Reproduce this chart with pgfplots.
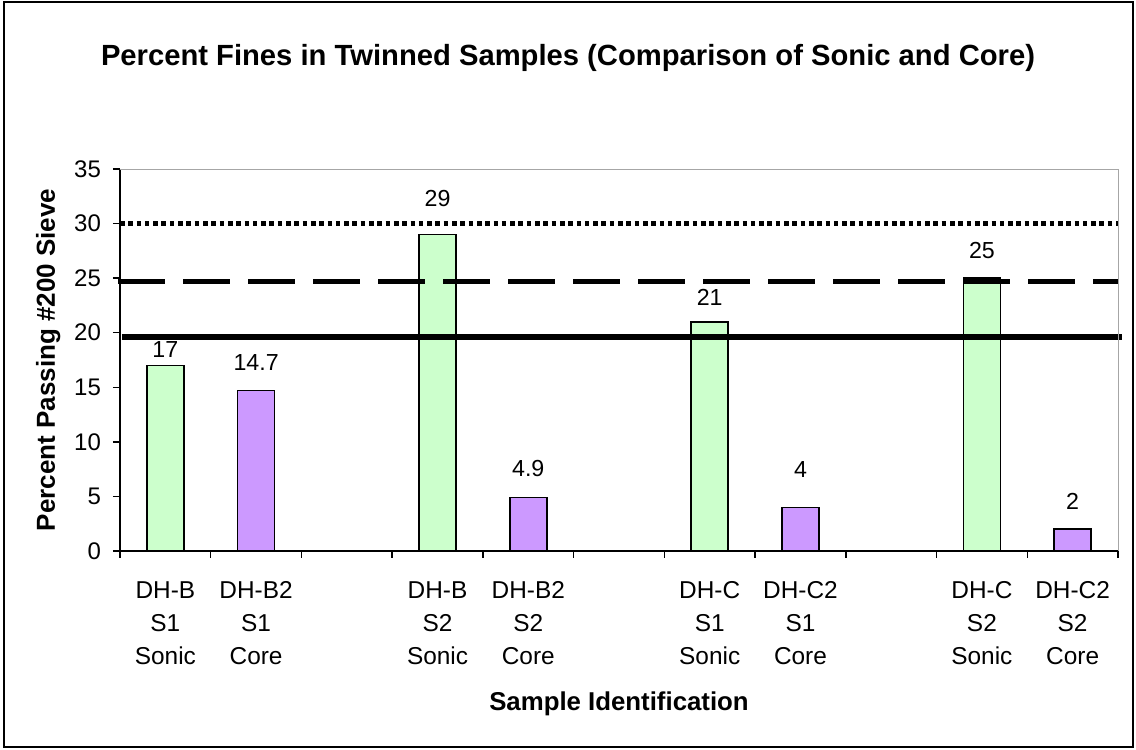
\documentclass[border=0pt]{standalone}
\usepackage{fontspec}
\setmainfont{Liberation Sans}
\usepackage{pgfplots}
\pgfplotsset{compat=1.18}
\usepackage{pgfplotstable}

\definecolor{sonicgreen}{HTML}{CCFFCC}
\definecolor{corepurple}{HTML}{CC99FF}

% x position, percent passing, printed label, label lift (pt)
\pgfplotstableread{
x y lab off
0 17 17 8
3 29 29 18
6 21 21 12
9 25 25 14
}\sonic
\pgfplotstableread{
x y lab off
1 14.7 14.7 14
4 4.9 4.9 14.5
7 4 4 19
10 2 2 14
}\core

% three-line category label with uniform line boxes
\newcommand\cat[3]{#1\strut\\#2\strut\\#3\strut}

\begin{document}
\begin{tikzpicture}
\path[use as bounding box] (0pt,0pt) rectangle (568pt,375pt);
\draw[black, line width=0.75pt] (2pt,1.5pt) rectangle (566.5pt,374pt);
\node[font=\fontsize{14.6}{17}\selectfont\bfseries] at (284pt,346pt)
  {Percent Fines in Twinned Samples (Comparison of Sonic and Core)};
\begin{axis}[
  at={(60pt,99.5pt)}, anchor=south west,
  scale only axis, width=499pt, height=191pt,
  xmin=-0.5, xmax=10.5, ymin=0, ymax=35,
  clip=false,
  axis x line*=bottom, axis y line*=left,
  axis line style={black, line width=0.75pt, -},
  tick align=outside, major tick length=3.5pt,
  tick style={black, line width=0.75pt},
  ytick={0,5,...,35},
  yticklabel style={font=\fontsize{12}{14}\selectfont, xshift=-2.5pt,
    /pgf/number format/assume math mode=true},
  xtick={-0.5,0.5,...,10.5},
  xticklabels={},
  extra x ticks={0,1,3,4,6,7,9,10},
  extra x tick labels={{\cat{DH-B}{S1}{Sonic}},{\cat{DH-B2}{S1}{Core}},
    {\cat{DH-B}{S2}{Sonic}},{\cat{DH-B2}{S2}{Core}},
    {\cat{DH-C}{S1}{Sonic}},{\cat{DH-C2}{S1}{Core}},
    {\cat{DH-C}{S2}{Sonic}},{\cat{DH-C2}{S2}{Core}}},
  extra x tick style={tick style={draw=none},
    tick label style={align=center, anchor=north, yshift=-5pt,
      font=\fontsize{12.2}{16.5}\selectfont}},
  xlabel={Sample Identification},
  xlabel style={at={(axis description cs:0.5,-0.4)}, anchor=center,
    font=\fontsize{12.9}{15}\selectfont\bfseries},
  ylabel={Percent Passing \#200 Sieve},
  ylabel style={at={(axis description cs:-0.072,0.5)}, anchor=center,
    font=\fontsize{13}{15}\selectfont\bfseries},
]
\addplot[ybar, bar width=0.408, bar shift=0pt, fill=sonicgreen, draw=black,
  line width=0.75pt,
  nodes near coords, point meta=explicit symbolic,
  visualization depends on={\thisrow{off} \as \laboff},
  every node near coord/.append style={anchor=center, yshift=\laboff*1pt,
    font=\fontsize{11.6}{13}\selectfont, black}]
  table[x=x, y=y, meta=lab] {\sonic};
\addplot[ybar, bar width=0.408, bar shift=0pt, fill=corepurple, draw=black,
  line width=0.75pt,
  nodes near coords, point meta=explicit symbolic,
  visualization depends on={\thisrow{off} \as \laboff},
  every node near coord/.append style={anchor=center, yshift=\laboff*1pt,
    font=\fontsize{11.6}{13}\selectfont, black}]
  table[x=x, y=y, meta=lab] {\core};
% limit lines
\addplot[black, line width=2.4pt, dash pattern=on 2.3pt off 1.85pt]
  coordinates {(-0.5,30) (10.5,30)};
\addplot[black, line width=2.8pt, dash pattern=on 23.5pt off 9pt]
  coordinates {(-0.52,24.7) (10.5,24.7)};
\addplot[black, line width=2.8pt]
  coordinates {(-0.48,19.6) (10.54,19.6)};
\draw[gray!70, line width=0.5pt] (rel axis cs:0,1) -- (rel axis cs:1,1) -- (rel axis cs:1,0);
\end{axis}
\end{tikzpicture}
\end{document}
